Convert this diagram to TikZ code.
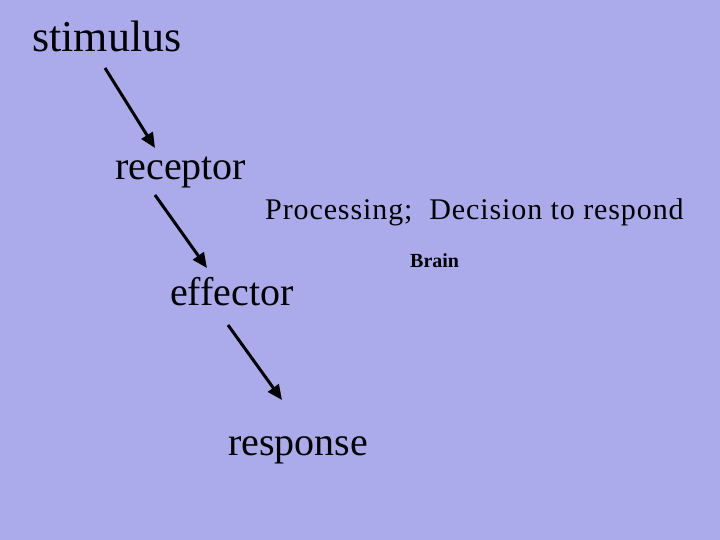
\documentclass[tikz,border=0pt]{standalone}
\usepackage{fontspec}
\setmainfont{Liberation Serif}
\usetikzlibrary{arrows.meta}
\definecolor{bg}{RGB}{171,171,235}
\begin{document}
\begin{tikzpicture}[x=1pt,y=-1pt,
  lbl/.style={anchor=base west,inner sep=0pt,font=\fontsize{40}{40}\selectfont},
  arr/.style={line width=3pt,-{Triangle[length=15pt,width=13pt]}}]
\fill[bg] (0,0) rectangle (720,540);
\node[lbl,font=\fontsize{44}{44}\selectfont] (stim) at (32,52) {stimulus};
\node[lbl] (rec) at (115,180) {receptor};
\node[lbl,font=\fontsize{30}{30}\selectfont\addfontfeature{LetterSpace=3}] (proc) at (265,220) {Processing;\ \ Decision to respond};
\node[lbl,font=\bfseries\fontsize{20}{20}\selectfont] (brain) at (410,267) {Brain};
\node[lbl] (eff) at (170,305) {effector};
\node[lbl] (resp) at (228,455) {response};
\coordinate (a1) at (105,68); \coordinate (b1) at (155,148);
\coordinate (a2) at (155,195); \coordinate (b2) at (207,268);
\coordinate (a3) at (228,325); \coordinate (b3) at (282,400);
\draw[arr] (a1) -- (b1);
\draw[arr] (a2) -- (b2);
\draw[arr] (a3) -- (b3);
\end{tikzpicture}
\end{document}
